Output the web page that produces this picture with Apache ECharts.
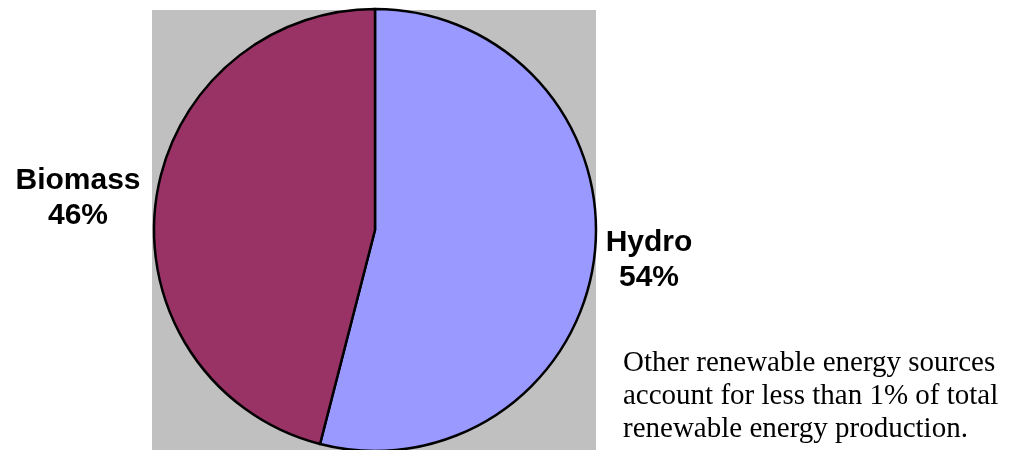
<!DOCTYPE html>
<html lang="en">
  <head>
    <meta charset="UTF-8" />
    <title>renewable energy</title>
    <style>
      html, body { margin: 0; padding: 0; background: #fff; }
      #main { width: 1010px; height: 450px; }
    </style>
  </head>
  <body>
    <div id="main"></div>
  </body>
  <script src="https://cdn.jsdelivr.net/npm/echarts@6/dist/echarts.min.js"></script>
  <script>
    /* globals echarts */
    var categories = ["Hydro", "Biomass"];
    var shares = [54, 46];
    var colors = ["#9999FF", "#993366"];
    var note = [
      "Other renewable energy sources",
      "account for less than 1% of total",
      "renewable energy production."
    ];

    // where each slice's label sits
    var labelSpots = {
      Hydro: [649, 260],
      Biomass: [78, 198]
    };

    var chart = echarts.init(document.getElementById("main"));

    var data = categories.map(function (name, i) {
      return { name: name, value: shares[i], itemStyle: { color: colors[i] } };
    });

    chart.setOption({
      animation: false,
      graphic: [
        {
          type: "rect",
          z: -10,
          shape: { x: 152, y: 10, width: 444, height: 440 },
          style: { fill: "#C0C0C0" }
        },
        {
          type: "text",
          left: 623,
          top: 347,
          style: {
            text: note.join("\n"),
            font: "29px 'Liberation Serif', 'Times New Roman', serif",
            lineHeight: 33,
            fill: "#000"
          }
        }
      ],
      series: [
        {
          type: "pie",
          center: [375, 230],
          radius: 221,
          startAngle: 90,
          clockwise: true,
          data: data,
          itemStyle: { borderColor: "#000", borderWidth: 2.5 },
          emphasis: { disabled: true },
          labelLine: { show: false },
          label: {
            show: true,
            position: "outside",
            formatter: "{b}\n{d}%",
            fontFamily: "'Liberation Sans', Arial, sans-serif",
            fontWeight: "bold",
            fontSize: 30,
            lineHeight: 35,
            color: "#000",
            align: "center",
            overflow: "none",
            width: 160
          },
          labelLayout: function (params) {
            var p = labelSpots[categories[params.dataIndex]];
            return {
              x: p[0],
              y: p[1],
              align: "center",
              verticalAlign: "middle",
              hideOverlap: false
            };
          }
        }
      ]
    });
  </script>
</html>
